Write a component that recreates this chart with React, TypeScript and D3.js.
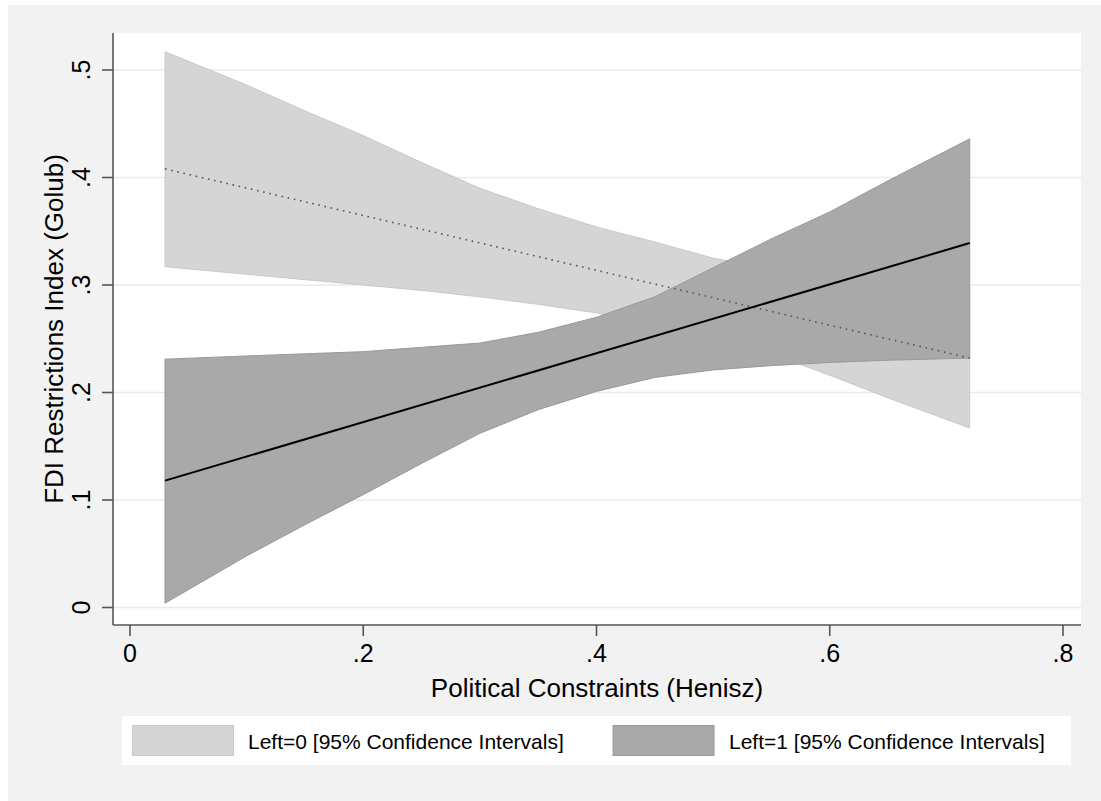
import React from "react";
import * as d3 from "d3";

// ---- data ----
const xGrid = [0.03, 0.1, 0.15, 0.2, 0.25, 0.3, 0.35, 0.4, 0.45, 0.5, 0.55, 0.6, 0.65, 0.72];
const left0Upper = [0.517, 0.486, 0.462, 0.439, 0.414, 0.39, 0.371, 0.354, 0.34, 0.325, 0.315, 0.306, 0.302, 0.299];
const left0Lower = [0.317, 0.31, 0.305, 0.3, 0.295, 0.289, 0.282, 0.274, 0.264, 0.252, 0.236, 0.216, 0.195, 0.167];
const left1Upper = [0.231, 0.234, 0.236, 0.238, 0.242, 0.246, 0.256, 0.27, 0.289, 0.316, 0.343, 0.368, 0.397, 0.436];
const left1Lower = [0.004, 0.048, 0.077, 0.105, 0.134, 0.162, 0.184, 0.201, 0.214, 0.221, 0.225, 0.228, 0.23, 0.232];
const fitX = [0.03, 0.72];
const left0Fit = [0.408, 0.232];
const left1Fit = [0.118, 0.339];

const yTicks = [0, 0.1, 0.2, 0.3, 0.4, 0.5];
const xTicks = [0, 0.2, 0.4, 0.6, 0.8];
const legendLabels = ["Left=0 [95% Confidence Intervals]", "Left=1 [95% Confidence Intervals]"];
const xTitle = "Political Constraints (Henisz)";
const yTitle = "FDI Restrictions Index (Golub)";

const FONT = "'Liberation Sans', Arial, Helvetica, sans-serif";
const fmt = (v: number) => (v === 0 ? "0" : d3.format(".1f")(v).replace(/^0/, ""));

export default function App() {
  const plotL = 113, plotR = 1081, plotT = 33, plotB = 625;
  const x = d3.scaleLinear().domain([0, 0.8]).range([130, 1063]);
  const y = d3.scaleLinear().domain([0, 0.5]).range([607.5, 70]);

  const band = (up: number[], lo: number[]) =>
    d3.area<number>()
      .x((_, i) => x(xGrid[i]))
      .y0((_, i) => y(lo[i]))
      .y1((_, i) => y(up[i]))(xGrid.map((_, i) => i)) || "";
  const line = (vals: number[]) =>
    d3.line<number>()
      .x((_, i) => x(fitX[i]))
      .y((v) => y(v))(vals) || "";

  const lightFill = "#d5d5d5", lightStroke = "#c9c9c9";
  const darkFill = "#a9a9a9", darkStroke = "#999999";

  return (
    <svg width={1101} height={801} style={{ position: "absolute", left: 0, top: 0, background: "#ffffff" }}>
      <rect x={8} y={5} width={1093} height={796} fill="#f2f2f2" />
      <rect x={plotL} y={plotT} width={plotR - plotL} height={plotB - plotT} fill="#ffffff" />
      {yTicks.map((t) => (
        <line key={"g" + t} x1={plotL} x2={plotR} y1={y(t)} y2={y(t)} stroke="#eaeaea" strokeWidth={1.5} />
      ))}
      <path d={band(left0Upper, left0Lower)} fill={lightFill} stroke={lightStroke} strokeWidth={1} />
      <path d={band(left1Upper, left1Lower)} fill={darkFill} stroke={darkStroke} strokeWidth={1} />
      <path d={line(left0Fit)} fill="none" stroke="#555" strokeWidth={1.6} strokeDasharray="1.6 4.7" />
      <path d={line(left1Fit)} fill="none" stroke="#000" strokeWidth={2} />
      {/* axes */}
      <line x1={plotL} x2={plotL} y1={plotT} y2={plotB} stroke="#555" strokeWidth={1.6} />
      <line x1={plotL} x2={plotR} y1={plotB} y2={plotB} stroke="#555" strokeWidth={1.6} />
      {yTicks.map((t) => (
        <g key={"y" + t}>
          <line x1={plotL - 11} x2={plotL} y1={y(t)} y2={y(t)} stroke="#555" strokeWidth={1.6} />
          <text transform={`translate(89.5,${y(t)}) rotate(-90)`} textAnchor="middle" fontFamily={FONT} fontSize={25} fill="#000">
            {fmt(t)}
          </text>
        </g>
      ))}
      {xTicks.map((t) => (
        <g key={"x" + t}>
          <line x1={x(t)} x2={x(t)} y1={plotB} y2={plotB + 11} stroke="#555" strokeWidth={1.6} />
          <text x={x(t)} y={662} textAnchor="middle" fontFamily={FONT} fontSize={25} fill="#000">
            {fmt(t)}
          </text>
        </g>
      ))}
      <text x={597} y={697} textAnchor="middle" fontFamily={FONT} fontSize={26} fill="#000">{xTitle}</text>
      <text transform={`translate(63,${(plotT + plotB) / 2}) rotate(-90)`} textAnchor="middle" fontFamily={FONT} fontSize={26} fill="#000">
        {yTitle}
      </text>
      {/* legend */}
      <rect x={122} y={716} width={949} height={49} fill="#ffffff" />
      <rect x={132.5} y={725.5} width={101} height={30} fill={lightFill} stroke={lightStroke} strokeWidth={1} />
      <text x={248} y={749} fontFamily={FONT} fontSize={21} fill="#000">{legendLabels[0]}</text>
      <rect x={613} y={725.5} width={101} height={30} fill={darkFill} stroke={darkStroke} strokeWidth={1} />
      <text x={729} y={749} fontFamily={FONT} fontSize={21} fill="#000">{legendLabels[1]}</text>
    </svg>
  );
}
